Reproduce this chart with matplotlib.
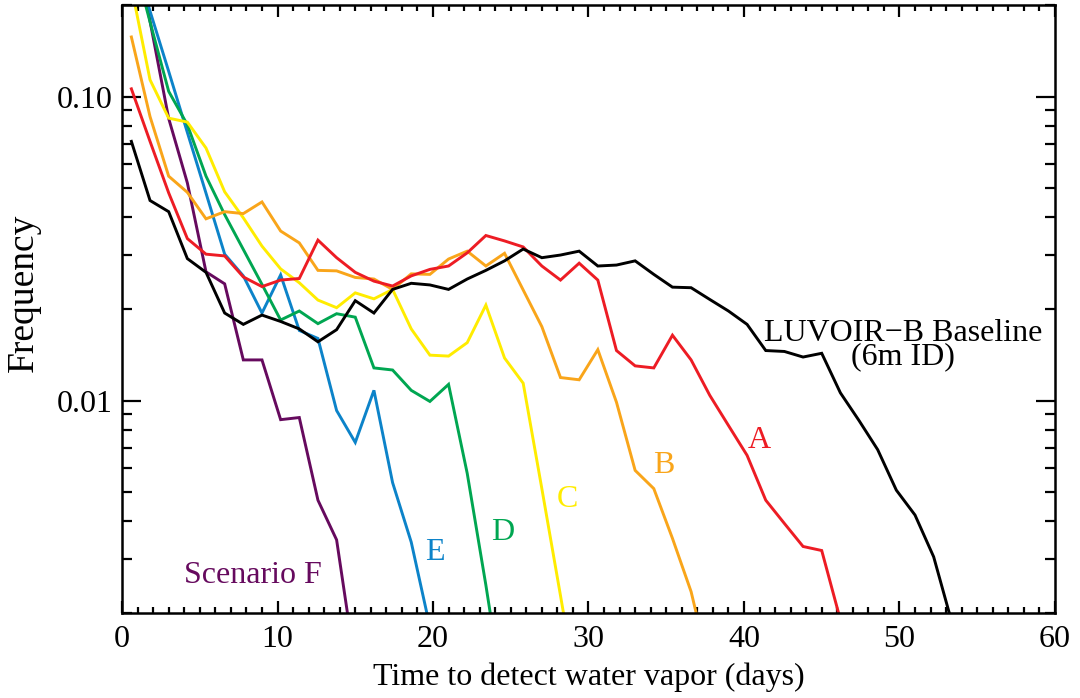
import numpy as np
import matplotlib
matplotlib.use("Agg")
import matplotlib.pyplot as plt
from matplotlib.ticker import MultipleLocator, LogLocator, NullFormatter, FixedLocator, FixedFormatter

# bin centres (days)
days = [0.6, 1.8, 3.0, 4.2, 5.4, 6.6, 7.8, 9.0, 10.2, 11.4, 12.6, 13.8, 15.0,
        16.2, 17.4, 18.6, 19.8, 21.0, 22.2, 23.4, 24.6, 25.8, 27.0, 28.2, 29.4,
        30.6, 31.8, 33.0, 34.2, 35.4, 36.6, 37.8, 39.0, 40.2, 41.4, 42.6, 43.8,
        45.0, 46.2, 47.4, 48.6, 49.8, 51.0, 52.2, 53.4]

baseline = [0.0712, 0.0455, 0.0418, 0.0293, 0.0264, 0.0194, 0.0178, 0.0191, 0.0182,
            0.0172, 0.0156, 0.0171, 0.0213, 0.0194, 0.0232, 0.0243, 0.0240, 0.0232,
            0.0251, 0.0268, 0.0288, 0.0315, 0.0295, 0.0301, 0.0310, 0.0277, 0.0279,
            0.0288, 0.0260, 0.0236, 0.0235, 0.0215, 0.0197, 0.0178, 0.0146, 0.0145,
            0.0139, 0.0143, 0.0106, 0.00859, 0.00689, 0.00507, 0.00420, 0.00306, 0.00184]
scen_a = [0.106, 0.0712, 0.0482, 0.0341, 0.0303, 0.0299, 0.0255, 0.0237, 0.0249,
          0.0252, 0.0337, 0.0295, 0.0264, 0.0247, 0.0238, 0.0257, 0.0270, 0.0277,
          0.0306, 0.0349, 0.0335, 0.0320, 0.0277, 0.0249, 0.0283, 0.0249, 0.0146,
          0.0130, 0.0128, 0.0164, 0.0136, 0.0104, 0.00828, 0.00660, 0.00470,
          0.00394, 0.00331, 0.00321, 0.0019]
scen_b = [0.157, 0.0859, 0.0547, 0.0484, 0.0396, 0.0418, 0.0412, 0.0450, 0.0361,
          0.0330, 0.0268, 0.0267, 0.0254, 0.0251, 0.0232, 0.0261, 0.0260, 0.0292,
          0.0310, 0.0277, 0.0305, 0.0231, 0.0175, 0.0119, 0.0117, 0.0147, 0.00987,
          0.00589, 0.00513, 0.00352, 0.00235, 0.0013]
scen_c = [0.23, 0.1135, 0.0849, 0.0824, 0.0677, 0.0486, 0.0399, 0.0322, 0.0271,
          0.0244, 0.0214, 0.0202, 0.0226, 0.0216, 0.0232, 0.0172, 0.0141, 0.0140,
          0.0155, 0.0206, 0.0138, 0.0114, 0.00513, 0.00228, 0.0010]
scen_d = [0.30, 0.176, 0.104, 0.0808, 0.0547, 0.0409, 0.0314, 0.0241, 0.0184,
          0.0197, 0.0179, 0.0193, 0.0188, 0.0128, 0.0126, 0.0108, 0.00993, 0.0113,
          0.00576, 0.00247, 0.0010]
scen_e = [0.30, 0.191, 0.121, 0.0762, 0.0481, 0.0303, 0.0257, 0.0194, 0.0259,
          0.0170, 0.0160, 0.00927, 0.00728, 0.0108, 0.00537, 0.00342, 0.0018]
scen_f = [0.37, 0.177, 0.0847, 0.0520, 0.0265, 0.0242, 0.0136, 0.0136, 0.00865,
          0.00879, 0.00470, 0.00348, 0.00134]

plt.rcParams['font.family'] = ['Liberation Serif', 'DejaVu Serif']
plt.rcParams['font.size'] = 23

fig = plt.figure(figsize=(10.8, 6.98), dpi=100)
ax = fig.add_axes([0.113, 0.1218, 0.8638, 0.8710])

series = [
    (baseline, 'black'),
    (scen_a, '#ED1C24'),
    (scen_b, '#F9A51A'),
    (scen_c, '#FFEC00'),
    (scen_d, '#00A651'),
    (scen_e, '#0C83C9'),
    (scen_f, '#660A5E'),
]
for vals, col in series[::-1]:
    ax.plot(days[:len(vals)], vals, color=col, lw=2.1, solid_joinstyle='miter')

ax.set_yscale('log')
ax.set_xlim(0, 60)
ax.set_ylim(0.002, 0.2)

ax.xaxis.set_major_locator(MultipleLocator(10))
ax.xaxis.set_minor_locator(MultipleLocator(1))
ax.yaxis.set_major_locator(FixedLocator([0.01, 0.1]))
ax.yaxis.set_major_formatter(FixedFormatter(['0.01', '0.10']))
ax.yaxis.set_minor_locator(LogLocator(base=10, subs=np.arange(2, 10)))
ax.yaxis.set_minor_formatter(NullFormatter())

ax.tick_params(axis='both', which='both', direction='in', top=True, right=True,
               width=1.6, colors='black')
ax.tick_params(axis='x', which='major', length=8.5, pad=9)
ax.tick_params(axis='x', which='minor', length=4.3)
ax.tick_params(axis='y', which='major', length=13.5, pad=7)
ax.tick_params(axis='y', which='minor', length=7)
for s in ax.spines.values():
    s.set_linewidth(1.8)

ax.set_xlabel('Time to detect water vapor (days)', labelpad=6)
ax.set_ylabel('Frequency', fontsize=27)
ax.yaxis.set_label_coords(-0.087, 0.526)

# two-line label, anchored on the baseline of its last line
ax.text(50.25, 0.01312, 'LUVOIR\u2212B Baseline\n(6m ID)', ha='center',
        va='baseline', multialignment='center', linespacing=0.78)
ax.text(41.0, 0.00697, 'A', color='#ED1C24', ha='center', va='baseline')
ax.text(34.86, 0.00578, 'B', color='#F9A51A', ha='center', va='baseline')
ax.text(28.65, 0.00447, 'C', color='#FFEC00', ha='center', va='baseline')
ax.text(24.5, 0.00348, 'D', color='#00A651', ha='center', va='baseline')
ax.text(20.13, 0.00299, 'E', color='#0C83C9', ha='center', va='baseline')
ax.text(8.43, 0.00251, 'Scenario F', color='#660A5E', ha='center', va='baseline')

fig.savefig('out.png', dpi=100)
